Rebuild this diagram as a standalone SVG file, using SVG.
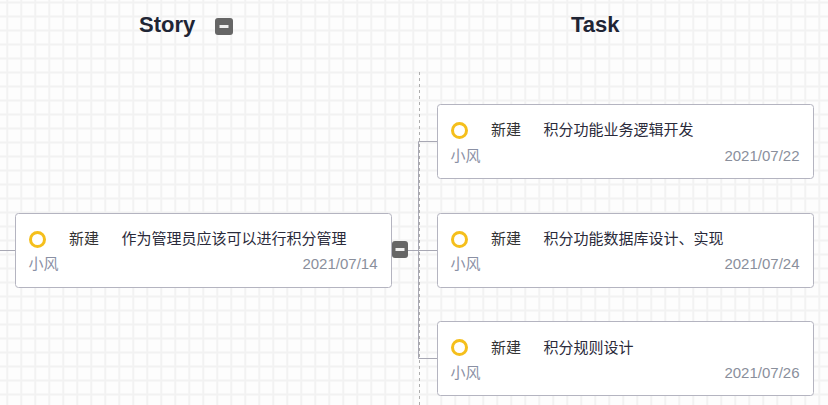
<svg xmlns="http://www.w3.org/2000/svg" width="828" height="405" viewBox="0 0 828 405">
<style>
.hdr{font-family:"Liberation Sans",Arial,sans-serif;font-size:22px;font-weight:bold;fill:#1f2535}
.node{fill:#ffffff;stroke:#b4b4c0;stroke-width:1}
.st{fill:none;stroke:#f5bf1c;stroke-width:3}
.state{font-family:"Noto Sans CJK SC","Liberation Sans",sans-serif;font-size:15px;fill:#333333}
.title{font-family:"Noto Sans CJK SC","Liberation Sans",sans-serif;font-size:15px;fill:#2a2a3a}
.owner{font-family:"Noto Sans CJK SC","Liberation Sans",sans-serif;font-size:15px;fill:#8a90a4}
.date{font-family:"Liberation Sans",Arial,sans-serif;font-size:15px;fill:#8a8f9c;text-anchor:end}
.btn{fill:#666666}
.bar{fill:#f0f0f0}
.link{fill:none;stroke:#a8a8b4;stroke-width:1}
</style>
<defs>
<pattern id="grid" x="0" y="0" width="14" height="14" patternUnits="userSpaceOnUse">
<rect x="6.3" y="0" width="2" height="14" fill="#f2f2f2"/>
<rect x="0" y="1.5" width="14" height="2" fill="#f2f2f2"/>
</pattern>
</defs>
<rect width="828" height="405" fill="#fdfdfd"/>
<rect width="828" height="405" fill="url(#grid)"/>
<line x1="419.5" y1="72" x2="419.5" y2="405" stroke="#aeaeae" stroke-width="1" stroke-dasharray="3 3"/>
<g id="header-story">
<text class="hdr" x="139" y="32">Story</text>
<rect class="btn" x="215" y="18" width="18" height="17" rx="3"/>
<rect class="bar" x="219.5" y="25" width="9" height="3"/>
</g>
<g id="header-task">
<text class="hdr" x="571" y="32">Task</text>
</g>
<g id="connectors">
<path class="link" d="M0 250.5H15.5"/>
<path class="link" d="M408 250.5H419.5"/>
<path class="link" d="M437.5 141.5H418.5V358.5H437.5"/>
<path class="link" d="M418.5 250.5H437.5"/>
</g>
<g id="story">
<rect class="node" x="15.5" y="213.5" width="376" height="74" rx="3"/>
<circle class="st" cx="37.5" cy="239.5" r="7"/>
<text class="state" x="69" y="244">新建</text>
<text class="title" x="121.5" y="244">作为管理员应该可以进行积分管理</text>
<text class="owner" x="28.5" y="269">小风</text>
<text class="date" x="377.5" y="269">2021/07/14</text>
<rect class="btn" x="392" y="241" width="16" height="17" rx="3"/>
<rect class="bar" x="395.5" y="248" width="9" height="3"/>
</g>
<g id="task1">
<rect class="node" x="437.5" y="104.5" width="376" height="74" rx="3"/>
<circle class="st" cx="459.5" cy="130.5" r="7"/>
<text class="state" x="491" y="135">新建</text>
<text class="title" x="543.5" y="135">积分功能业务逻辑开发</text>
<text class="owner" x="450.5" y="160.5">小风</text>
<text class="date" x="799.5" y="160.5">2021/07/22</text>
</g>
<g id="task2">
<rect class="node" x="437.5" y="213.5" width="376" height="74" rx="3"/>
<circle class="st" cx="459.5" cy="239.5" r="7"/>
<text class="state" x="491" y="244">新建</text>
<text class="title" x="543.5" y="244">积分功能数据库设计、实现</text>
<text class="owner" x="450.5" y="269">小风</text>
<text class="date" x="799.5" y="269">2021/07/24</text>
</g>
<g id="task3">
<rect class="node" x="437.5" y="321.5" width="376" height="74" rx="3"/>
<circle class="st" cx="459.5" cy="347.5" r="7"/>
<text class="state" x="491" y="352.5">新建</text>
<text class="title" x="543.5" y="352.5">积分规则设计</text>
<text class="owner" x="450.5" y="377.5">小风</text>
<text class="date" x="799.5" y="377.5">2021/07/26</text>
</g>
</svg>
